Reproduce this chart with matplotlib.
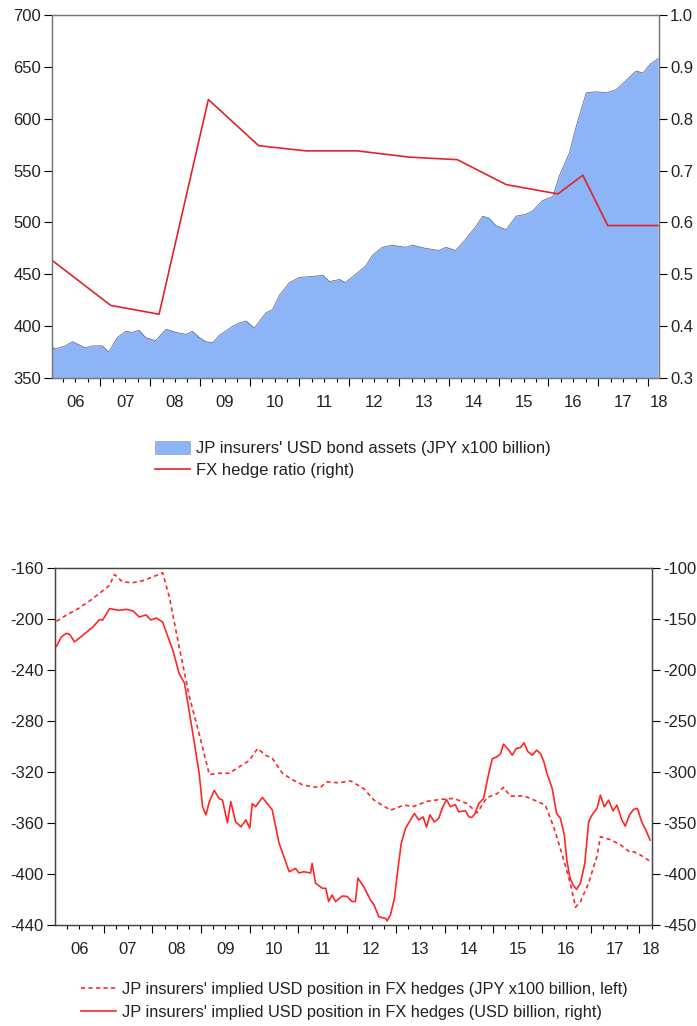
import numpy as np
import matplotlib
matplotlib.use('Agg')
import matplotlib.pyplot as plt
from matplotlib.patches import Patch
from matplotlib.lines import Line2D

plt.rcParams['font.family'] = ['Liberation Sans', 'DejaVu Sans']
plt.rcParams['axes.unicode_minus'] = False

# top chart: JP insurers' USD bond assets (JPY x100 billion), left axis
bond_t = [2006.00, 2006.10, 2006.30, 2006.44, 2006.70, 2006.84, 2007.04, 2007.17,
          2007.34, 2007.51, 2007.64, 2007.78, 2007.91, 2008.11, 2008.32, 2008.52,
          2008.72, 2008.85, 2008.99, 2009.12, 2009.26, 2009.39, 2009.66, 2009.79,
          2009.93, 2010.09, 2010.33, 2010.46, 2010.60, 2010.80, 2011.00, 2011.27,
          2011.47, 2011.60, 2011.81, 2011.92, 2012.13, 2012.33, 2012.46, 2012.66,
          2012.86, 2013.13, 2013.27, 2013.53, 2013.80, 2013.94, 2014.14, 2014.34,
          2014.54, 2014.68, 2014.81, 2014.94, 2015.15, 2015.35, 2015.55, 2015.68,
          2015.88, 2016.09, 2016.22, 2016.42, 2016.56, 2016.76, 2016.96, 2017.16,
          2017.36, 2017.56, 2017.76, 2017.90, 2018.03, 2018.20]
bond_v = [381, 378, 381, 385, 379, 381, 381, 375,
          389, 395, 394, 396, 389, 386, 397, 394,
          392, 395, 389, 385, 384, 391, 400, 403,
          405, 398, 413, 416, 430, 442, 447, 448,
          449, 443, 445, 442, 450, 458, 468, 476,
          478, 476, 478, 475, 473, 476, 473, 484,
          496, 506, 504, 497, 493, 506, 508, 511,
          521, 525, 545, 567, 593, 625, 626, 625,
          628, 637, 646, 644, 652, 658]

# FX hedge ratio, right axis
hedge_t = [2006.03, 2007.21, 2008.18, 2009.17, 2010.18, 2011.13, 2012.16,
           2013.20, 2014.17, 2015.15, 2016.19, 2016.69, 2017.19, 2018.20]
hedge_v = [0.527, 0.440, 0.423, 0.837, 0.748, 0.738, 0.738,
           0.726, 0.721, 0.673, 0.655, 0.691, 0.594, 0.594]

# bottom chart: implied USD position in FX hedges (JPY x100 billion, left)
jpy_t = [2006.03, 2006.23, 2006.47, 2006.74, 2006.91, 2007.12, 2007.22, 2007.39,
         2007.60, 2007.80, 2008.01, 2008.21, 2008.35, 2008.55, 2008.76, 2008.96,
         2009.17, 2009.37, 2009.58, 2009.78, 2009.99, 2010.16, 2010.33, 2010.46,
         2010.67, 2010.87, 2011.08, 2011.28, 2011.45, 2011.59, 2011.83, 2012.07,
         2012.34, 2012.55, 2012.89, 2013.16, 2013.37, 2013.64, 2013.92, 2014.19,
         2014.46, 2014.67, 2014.87, 2015.08, 2015.21, 2015.35, 2015.63, 2015.90,
         2016.07, 2016.24, 2016.41, 2016.58, 2016.69, 2016.79, 2016.96, 2017.13,
         2017.20, 2017.40, 2017.61, 2017.81, 2017.88, 2018.02, 2018.22]
jpy_v = [-201.8, -197, -192, -185, -180, -173.6, -165, -171,
         -171.5, -170, -167, -163.7, -183, -222, -261, -290,
         -322, -321, -321, -316, -311, -301.6, -307, -309,
         -321, -326, -330, -331.6, -332, -327.7, -328.5, -327,
         -333, -342, -350, -346, -347, -343, -341.5, -340.7,
         -344.7, -352, -340, -337, -332, -339, -338.7, -343,
         -346, -363, -384, -407, -426, -421.7, -407, -386,
         -370.8, -373, -377, -383, -382.5, -385, -390]

# implied USD position in FX hedges (USD billion, right)
usd_t = [2006.03, 2006.13, 2006.23, 2006.30, 2006.40, 2006.57, 2006.78, 2006.91,
         2006.98, 2007.12, 2007.32, 2007.46, 2007.60, 2007.73, 2007.87, 2007.97,
         2008.08, 2008.21, 2008.42, 2008.55, 2008.66, 2008.83, 2008.96, 2009.03,
         2009.10, 2009.17, 2009.27, 2009.37, 2009.44, 2009.54, 2009.61, 2009.71,
         2009.82, 2009.92, 2010.00, 2010.05, 2010.12, 2010.26, 2010.36, 2010.46,
         2010.60, 2010.70, 2010.81, 2010.94, 2011.01, 2011.11, 2011.25, 2011.28,
         2011.35, 2011.49, 2011.56, 2011.62, 2011.69, 2011.76, 2011.90, 2012.00,
         2012.10, 2012.17, 2012.22, 2012.34, 2012.48, 2012.55, 2012.65, 2012.79,
         2012.82, 2012.89, 2012.97, 2013.04, 2013.11, 2013.20, 2013.30, 2013.38,
         2013.47, 2013.56, 2013.63, 2013.70, 2013.79, 2013.88, 2013.95, 2014.04,
         2014.12, 2014.22, 2014.29, 2014.43, 2014.50, 2014.56, 2014.63, 2014.70,
         2014.80, 2014.91, 2014.98, 2015.08, 2015.15, 2015.21, 2015.32, 2015.39,
         2015.47, 2015.56, 2015.63, 2015.71, 2015.80, 2015.89, 2015.97, 2016.04,
         2016.10, 2016.21, 2016.30, 2016.38, 2016.46, 2016.51, 2016.57, 2016.64,
         2016.71, 2016.79, 2016.88, 2016.96, 2017.03, 2017.13, 2017.20, 2017.28,
         2017.37, 2017.46, 2017.54, 2017.64, 2017.71, 2017.80, 2017.88, 2017.96,
         2018.05, 2018.14, 2018.22]
usd_v = [-176.7, -167.6, -164, -165, -172.5, -166, -157.8, -150.6,
         -151, -139.8, -141.5, -140.5, -142, -148, -146, -151,
         -149, -153, -180.6, -203.5, -213, -262, -301, -334,
         -342, -329, -318, -326, -327.6, -349.8, -329, -349,
         -353.7, -347, -355, -331, -334, -325, -331, -337,
         -369.5, -383, -397.8, -394.5, -399, -397.8, -399, -389.6,
         -409, -414, -414, -427, -420.6, -427, -421.6, -422,
         -427, -427, -404, -412.5, -425.5, -430, -442, -443.5,
         -446, -440, -424, -396, -370, -355, -347, -340.6,
         -347, -344, -354, -342, -349, -345.5, -335.7, -327,
         -334, -332, -339, -338, -344, -344.5, -340.6, -331,
         -326, -301, -287, -285, -282, -272.7, -278.6, -283.5,
         -277, -276, -271.4, -280, -283.5, -278.6, -282, -290,
         -301, -316, -340.6, -345.5, -362, -386, -402.7, -411,
         -415, -409, -389.6, -348.8, -342, -335.7, -322.7, -334,
         -327.6, -338, -332.5, -347, -353, -342, -336.7, -335.7,
         -349, -357.6, -366.7]

year_labels = ['06', '07', '08', '09', '10', '11', '12', '13', '14', '15', '16', '17', '18']

fill_col = '#8db4f6'
edge_col = '#5b6f9c'
red_top = '#e2232b'
red_bot = '#ff2626'
txt_col = '#222222'
FS = 12


def style_time_axis(ax, x0, x1, last_lab):
    years = np.arange(2007, 2019)
    quarters = [y + q for y in range(2006, 2019) for q in (0.25, 0.5, 0.75)]
    ax.set_xticks(years)
    ax.set_xticks(quarters, minor=True)
    ax.tick_params(axis='x', which='major', length=6, labelbottom=False, width=0.8)
    ax.tick_params(axis='x', which='minor', length=3, width=0.8)
    sec = ax.secondary_xaxis('bottom')
    labpos = [y + 0.5 for y in range(2006, 2018)] + [last_lab]
    sec.set_xticks(labpos, year_labels)
    sec.tick_params(length=0, pad=12, labelsize=FS, labelcolor=txt_col)
    sec.spines['bottom'].set_visible(False)
    ax.set_xlim(x0, x1)


fig = plt.figure(figsize=(6.97, 10.26), dpi=100)

# ---- top chart ----
ax1 = fig.add_axes([52 / 697, 1 - 378 / 1026, 607 / 697, 363 / 1026])
ax1.fill_between(bond_t, bond_v, 0, color=fill_col, lw=0)
ax1.plot(bond_t, bond_v, color=edge_col, lw=0.6)
ax1.set_ylim(350, 700)
ax1.set_yticks(np.arange(350, 701, 50))
ax1.tick_params(axis='y', length=6, labelsize=FS, labelcolor=txt_col, pad=2)

ax1r = ax1.twinx()
ax1r.plot(hedge_t, hedge_v, color=red_top, lw=1.2)
ax1r.set_ylim(0.3, 1.0)
ax1r.set_yticks(np.arange(0.3, 1.01, 0.1))
ax1r.set_yticklabels(['%.1f' % v for v in np.arange(0.3, 1.01, 0.1)])
ax1r.tick_params(axis='y', length=6, labelsize=FS, labelcolor=txt_col, pad=2)
for a in (ax1, ax1r):
    for s in a.spines.values():
        s.set_color('#777777')
        s.set_linewidth(0.9)
style_time_axis(ax1, 2006.03, 2018.22, 2018.21)

fig.legend(handles=[Patch(facecolor=fill_col, edgecolor='#9aa8c4', lw=0.6),
                    Line2D([], [], color=red_top, lw=1.2)],
           labels=["JP insurers' USD bond assets (JPY x100 billion)", "FX hedge ratio (right)"],
           loc='upper left', bbox_to_anchor=(155 / 697, 1 - 441 / 1026), frameon=False,
           fontsize=FS, borderpad=0, borderaxespad=0, handlelength=2.1,
           handleheight=0.8, handletextpad=0.35, labelspacing=0.4, labelcolor=txt_col)

# ---- bottom chart ----
ax2 = fig.add_axes([55 / 697, 1 - 925 / 1026, 597 / 697, 357 / 1026])
ax2.plot(jpy_t, jpy_v, color=red_bot, lw=1.2, ls=(0, (2.5, 2)))
ax2.set_ylim(-440, -160)
ax2.set_yticks(np.arange(-440, -159, 40))
ax2.tick_params(axis='y', length=6, labelsize=FS, labelcolor=txt_col, pad=2)

ax2r = ax2.twinx()
ax2r.plot(usd_t, usd_v, color=red_bot, lw=1.2)
ax2r.set_ylim(-450, -100)
ax2r.set_yticks(np.arange(-450, -99, 50))
ax2r.tick_params(axis='y', length=6, labelsize=FS, labelcolor=txt_col, pad=2)
for a in (ax2, ax2r):
    for s in a.spines.values():
        s.set_color('#444444')
        s.set_linewidth(0.9)
style_time_axis(ax2, 2006.0, 2018.26, 2018.24)

fig.legend(handles=[Line2D([], [], color=red_bot, lw=1.2, ls=(0, (2.5, 2))),
                    Line2D([], [], color=red_bot, lw=1.2)],
           labels=["JP insurers' implied USD position in FX hedges (JPY x100 billion, left)",
                   "JP insurers' implied USD position in FX hedges (USD billion, right)"],
           loc='upper left', bbox_to_anchor=(81 / 697, 1 - 982 / 1026), frameon=False,
           fontsize=11.75, borderpad=0, borderaxespad=0, handlelength=2.15,
           handletextpad=0.35, labelspacing=0.5, labelcolor=txt_col)

fig.savefig('out.png', dpi=100)
